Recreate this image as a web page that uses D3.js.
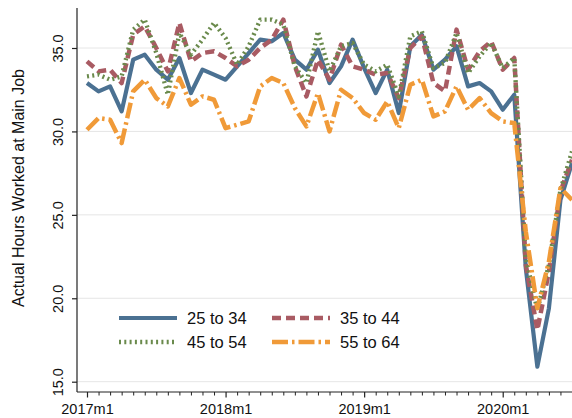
<!DOCTYPE html>
<html>
<head>
<meta charset="utf-8">
<script src="https://cdn.jsdelivr.net/npm/d3@7"></script>
<style>
  html, body { margin: 0; padding: 0; background: #fff; }
  svg { display: block; font-family: "Liberation Sans", Arial, sans-serif; }
</style>
</head>
<body>
<svg id="chart" width="572" height="418"></svg>
<script>
// Monthly periods 2017m1 .. 2020m7
const months = [];
for (let y = 2017; y <= 2020; y++) {
  for (let m = 1; m <= 12; m++) {
    if (y === 2020 && m > 7) break;
    months.push(y + "m" + m);
  }
}

const xTickLabels = ["2017m1", "2018m1", "2019m1", "2020m1"];
const yTickValues = [15, 20, 25, 30, 35];

const ageGroups = ["25 to 34", "35 to 44", "45 to 54", "55 to 64"];

const hours25to34 = [32.9, 32.4, 32.7, 31.2, 34.3, 34.6, 33.7, 33.1, 34.4, 32.3, 33.7, 33.4,
                     33.1, 33.9, 34.7, 35.5, 35.4, 35.9, 34.3, 33.7, 34.9, 32.9, 33.9, 35.5,
                     33.8, 32.3, 33.7, 31.1, 35.1, 35.8, 33.7, 34.3, 35.1, 32.7, 32.9, 32.4,
                     31.3, 32.2, 21.8, 15.9, 19.4, 25.9, 28.1];
const hours35to44 = [34.2, 33.6, 33.7, 32.9, 35.8, 36.3, 35.0, 33.6, 36.5, 34.2, 34.7, 34.8,
                     34.4, 33.9, 34.3, 35.0, 35.5, 36.7, 33.9, 32.1, 34.3, 33.1, 35.2, 33.9,
                     33.7, 33.4, 33.5, 32.0, 35.0, 35.7, 32.9, 32.4, 36.1, 33.7, 34.8, 35.4,
                     33.7, 34.4, 22.0, 18.1, 21.6, 26.4, 28.3];
const hours45to54 = [33.3, 33.4, 33.1, 33.3, 36.1, 36.7, 34.7, 32.2, 35.9, 34.6, 35.5, 36.5,
                     35.6, 34.0, 35.1, 36.7, 36.7, 36.4, 33.9, 32.9, 36.0, 33.6, 35.1, 35.3,
                     34.0, 33.6, 34.0, 32.1, 35.7, 36.0, 33.8, 34.1, 35.9, 33.5, 34.5, 35.3,
                     33.8, 34.4, 22.4, 19.3, 22.0, 26.5, 28.8];
const hours55to64 = [30.1, 30.8, 30.7, 29.3, 32.4, 33.1, 32.0, 31.5, 33.2, 31.6, 32.1, 31.9,
                     30.2, 30.4, 30.6, 32.7, 33.2, 32.9, 31.4, 30.3, 32.3, 30.0, 32.5, 32.0,
                     31.1, 30.7, 31.8, 30.2, 32.8, 33.1, 30.9, 31.2, 32.7, 31.3, 32.0, 31.1,
                     30.6, 30.5, 24.0, 19.4, 22.2, 26.6, 25.9];

const seriesValues = [hours25to34, hours35to44, hours45to54, hours55to64];

// Line styles per age group
const styles = [
  { color: "#4b7192", width: 4.2, dash: null },
  { color: "#a95b63", width: 4.5, dash: "9,5" },
  { color: "#6a8a4c", width: 4.4, dash: "2,3.3" },
  { color: "#f09a38", width: 4.5, dash: "16,4,2.5,4" }
];

const svg = d3.select("#chart");

const plot = { left: 77, right: 572, top: 8, bottom: 392 };

const x = d3.scaleLinear()
  .domain([0, months.length - 1])
  .range([87, 572]);

const y = d3.scaleLinear()
  .domain([15, 35])
  .range([381.7, 48]);

// Horizontal grid lines
svg.append("g")
  .selectAll("line")
  .data(yTickValues)
  .join("line")
  .attr("x1", plot.left)
  .attr("x2", plot.right)
  .attr("y1", d => y(d))
  .attr("y2", d => y(d))
  .attr("stroke", "#e6e6e6")
  .attr("stroke-width", 1);

// Y axis
const yAxis = svg.append("g")
  .attr("transform", `translate(${plot.left},0)`)
  .call(d3.axisLeft(y).tickValues(yTickValues).tickFormat(d3.format(".1f")).tickSize(5).tickPadding(0));
yAxis.select(".domain").remove();
yAxis.append("line")
  .attr("x1", 0).attr("x2", 0)
  .attr("y1", plot.top).attr("y2", plot.bottom)
  .attr("stroke", "#222").attr("stroke-width", 1.2);
yAxis.selectAll(".tick line").attr("stroke", "#222").attr("stroke-width", 1.2);
yAxis.selectAll(".tick text")
  .attr("x", 0).attr("dy", null)
  .attr("text-anchor", "middle")
  .attr("transform", "translate(-14,0) rotate(-90)")
  .attr("font-size", 14.5)
  .attr("fill", "#111");

// X axis: monthly minor ticks, yearly labelled ticks
const xAxisG = svg.append("g").attr("transform", `translate(0,${plot.bottom})`);
xAxisG.append("line")
  .attr("x1", plot.left).attr("x2", plot.right)
  .attr("y1", 0).attr("y2", 0)
  .attr("stroke", "#222").attr("stroke-width", 1.2);

const majorIdx = xTickLabels.map(l => months.indexOf(l));
const minorIdx = d3.range(months.length).filter(i => !majorIdx.includes(i));

xAxisG.append("g")
  .call(d3.axisBottom(x).tickValues(minorIdx).tickSize(3.5).tickFormat(""))
  .call(g => g.select(".domain").remove())
  .selectAll(".tick line").attr("stroke", "#222").attr("stroke-width", 1);

const xMajor = xAxisG.append("g")
  .call(d3.axisBottom(x).tickValues(majorIdx).tickSize(5.5).tickPadding(6)
    .tickFormat(i => months[i]))
  .call(g => g.select(".domain").remove());
xMajor.selectAll(".tick line").attr("stroke", "#222").attr("stroke-width", 1.2);
xMajor.selectAll(".tick text").attr("font-size", 14.5).attr("fill", "#111");

// Y axis title
svg.append("text")
  .attr("transform", "translate(24,188) rotate(-90)")
  .attr("text-anchor", "middle")
  .attr("font-size", 16)
  .attr("fill", "#111")
  .text("Actual Hours Worked at Main Job");

// Series lines
const line = d3.line()
  .x((d, i) => x(i))
  .y(d => y(d));

svg.append("g")
  .selectAll("path")
  .data(seriesValues)
  .join("path")
  .attr("d", d => line(d))
  .attr("fill", "none")
  .attr("stroke", (d, i) => styles[i].color)
  .attr("stroke-width", (d, i) => styles[i].width)
  .attr("stroke-dasharray", (d, i) => styles[i].dash)
  .attr("stroke-linejoin", "round");

// Legend
const legendPos = [
  { kx: 119, ky: 318 },
  { kx: 272, ky: 318 },
  { kx: 119, ky: 342 },
  { kx: 272, ky: 342 }
];
const legend = svg.append("g")
  .selectAll("g")
  .data(ageGroups)
  .join("g")
  .attr("transform", (d, i) => `translate(${legendPos[i].kx},${legendPos[i].ky})`);
legend.append("line")
  .attr("x1", 0).attr("x2", 58)
  .attr("y1", 0).attr("y2", 0)
  .attr("stroke", (d, i) => styles[i].color)
  .attr("stroke-width", (d, i) => styles[i].width)
  .attr("stroke-dasharray", (d, i) => styles[i].dash);
legend.append("text")
  .attr("x", 68)
  .attr("y", 6)
  .attr("font-size", 16.5)
  .attr("fill", "#111")
  .text(d => d);
</script>
</body>
</html>
